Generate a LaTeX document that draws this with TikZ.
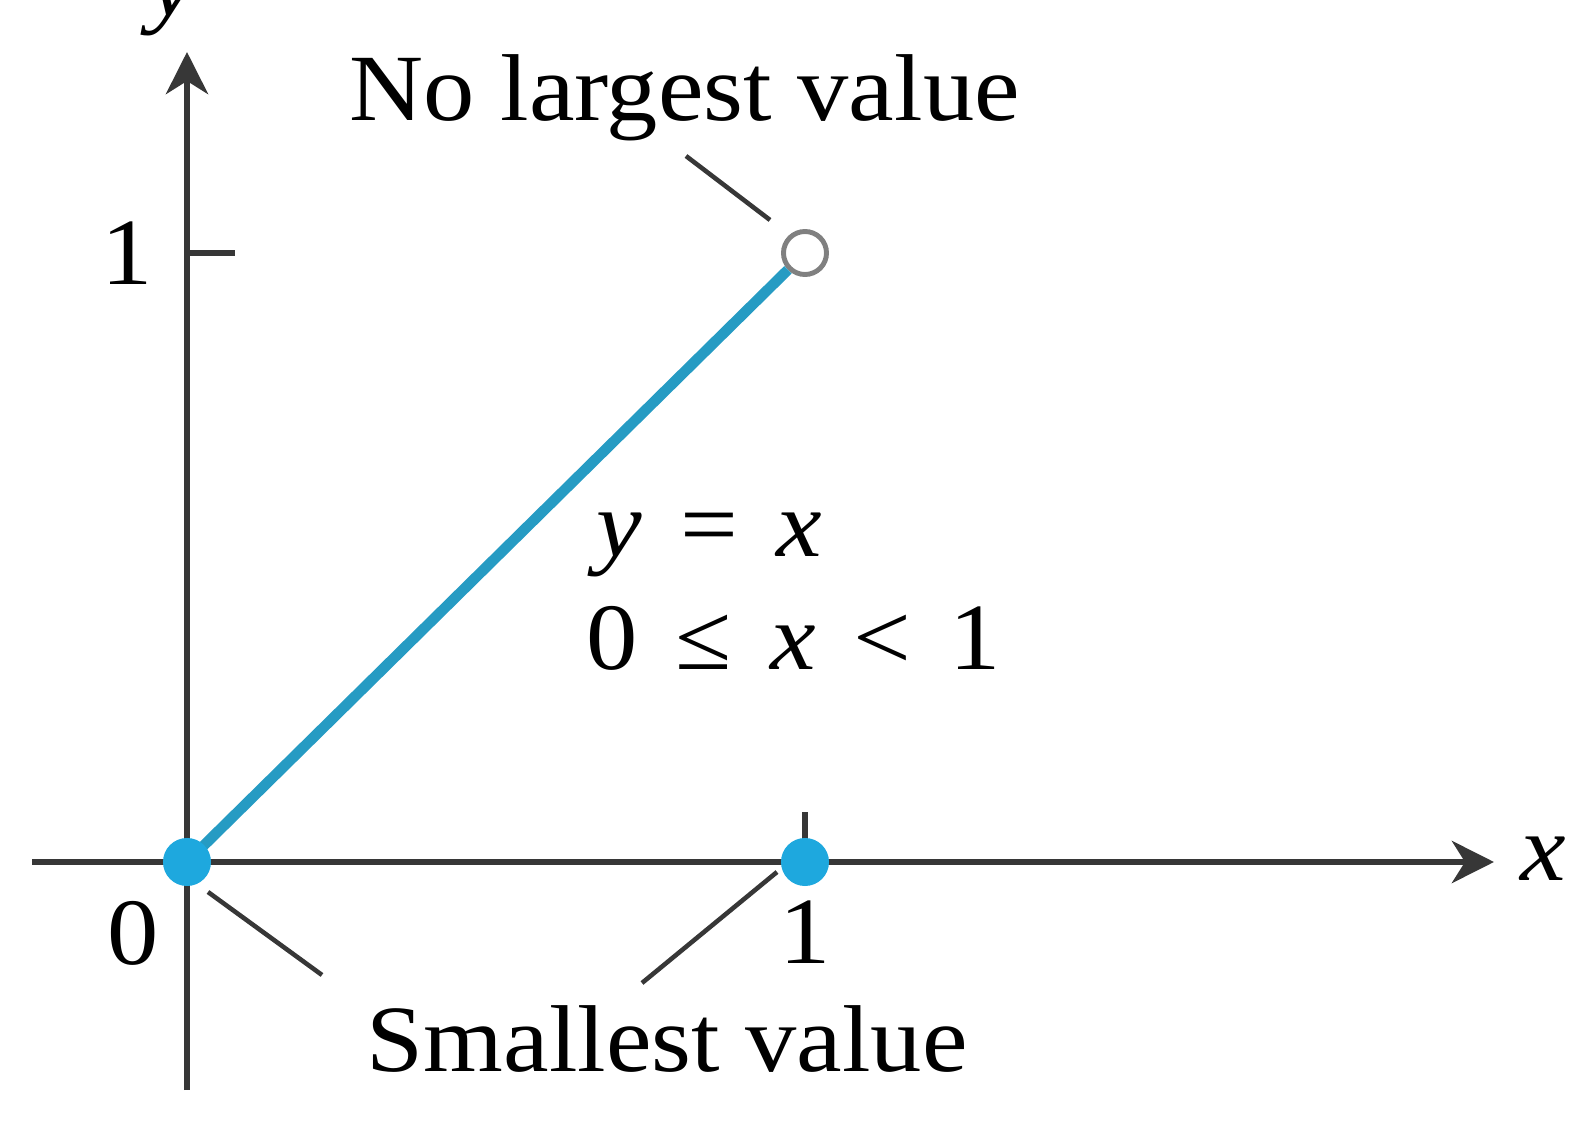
\documentclass[tikz,border=0pt]{standalone}
\usepackage{fontspec}
\setmainfont[FakeStretch=1.08]{Liberation Serif}
\usetikzlibrary{arrows.meta}
\definecolor{graphblue}{RGB}{38,155,195}
\definecolor{dotblue}{RGB}{30,168,222}
\definecolor{axisgray}{RGB}{55,55,55}
\newcommand{\rgap}{\hspace{0.4em}}

\begin{document}
\begin{tikzpicture}[x=0.01cm, y=-0.01cm, font=\fontsize{27}{32}\selectfont,
    axis/.style={line width=1.8pt, draw=axisgray, -{Stealth[length=0.42cm, width=0.42cm, inset=0.13cm]}},
    leader/.style={line width=1.3pt, draw=axisgray},
    label/.style={inner sep=0pt},
    filldot/.style={circle, fill=dotblue, inner sep=0pt, minimum size=0.48cm},
    opendot/.style={circle, draw=gray, fill=white, line width=1.4pt, inner sep=0pt, minimum size=0.43cm}]
    \useasboundingbox (0,0) rectangle (1581,1143);

    % Punkte
    \coordinate (O) at (187,862);
    \coordinate (P) at (805,862);

    % Achsen
    \coordinate (xstart) at (32,862);
    \coordinate (xend) at (1494,862);
    \coordinate (ystart) at (187,1090);
    \coordinate (yend) at (187,52);
    \draw[axis] (xstart) -- (xend);
    \draw[axis] (ystart) -- (yend);
    \draw[line width=1.8pt, axisgray] (187,253) -- (235,253);
    \draw[line width=1.8pt, axisgray] (805,862) -- (805,812);

    % Graph y = x
    \node[opendot] (Q) at (805,253) {};
    \draw[line width=3pt, graphblue] (O) -- (Q);
    \node[filldot] (Odot) at (O) {};
    \node[filldot] (Pdot) at (P) {};

    % Beschriftung
    \node[label, anchor=base] (xname) at (1543,880) {\textit{x}};
    \node[label, anchor=base] (yname) at (172,16) {\textit{y}};
    \node[label, anchor=base] (yone) at (127,285) {1};
    \node[label, anchor=base] (zero) at (133,965) {0};
    \node[label, anchor=base] (xone) at (805,963) {1};
    \node[label, anchor=base west] (eqn) at (596,557) {\textit{y}\rgap=\rgap\textit{x}};
    \node[label, anchor=base west] (dom) at (586,670) {0\rgap≤\rgap\textit{x}\rgap<\rgap1};
    \node[label, anchor=base west] (nolarge) at (349,121) {No largest value};
    \node[label, anchor=base west] (small) at (366,1071) {Smallest value};

    % Hinweislinien
    \coordinate (topA) at (686,156);
    \coordinate (topB) at (770,220);
    \coordinate (leftA) at (208,892);
    \coordinate (leftB) at (322,975);
    \coordinate (rightA) at (777,872);
    \coordinate (rightB) at (642,983);
    \draw[leader] (topA) -- (topB);
    \draw[leader] (leftA) -- (leftB);
    \draw[leader] (rightA) -- (rightB);
\end{tikzpicture}
\end{document}
